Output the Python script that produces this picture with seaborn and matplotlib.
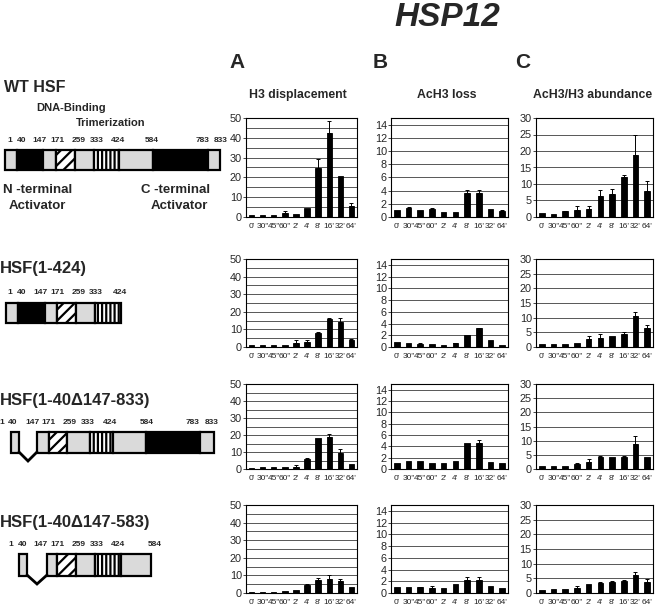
import numpy as np
import pandas as pd
import matplotlib
matplotlib.use("Agg")
import matplotlib.pyplot as plt
import seaborn as sns
from matplotlib.patches import Rectangle
from matplotlib.ticker import MultipleLocator

# ---------------- data ----------------
times = ["0'", '30"', '45"', '60"', "2'", "4'", "8'", "16'", "32'", "64'"]
constructs = ["WT HSF", "HSF(1-424)", "HSF(1-40\u0394147-833)", "HSF(1-40\u0394147-583)"]
panel_letters = ["A", "B", "C"]
panel_titles = ["H3 displacement", "AcH3 loss", "AcH3/H3 abundance"]

# A: H3 displacement
h3_wt = [0.9, 0.9, 1.2, 1.9, 1.5, 4.5, 24.7, 42.2, 20.7, 5.7]
h3_wt_err = [0, 0, 0, 1.2, 0, 0, 4.8, 6.2, 0, 1.4]
h3_424 = [0.9, 0.9, 0.9, 0.9, 2.1, 2.6, 7.9, 15.7, 14.0, 3.8]
h3_424_err = [0, 0, 0, 0, 1.7, 1.6, 0.8, 0.7, 2.6, 0.5]
h3_833 = [0.8, 1.0, 1.0, 1.2, 1.4, 5.6, 18.0, 19.0, 9.6, 3.0]
h3_833_err = [0, 0, 0, 0, 1.0, 0.6, 0, 1.4, 2.4, 0]
h3_583 = [0.6, 0.8, 0.8, 1.2, 1.8, 4.7, 7.3, 8.2, 6.7, 3.3]
h3_583_err = [0, 0, 0, 0, 0, 0.4, 1.3, 2.0, 1.1, 0]

# B: AcH3 loss
ac_wt = [1.1, 1.4, 1.0, 1.2, 0.7, 0.8, 3.6, 3.7, 1.2, 0.9]
ac_wt_err = [0, 0.1, 0, 0.1, 0, 0, 0.45, 0.4, 0, 0.1]
ac_424 = [0.85, 0.6, 0.55, 0.55, 0.4, 0.6, 2.05, 3.2, 1.15, 0.4]
ac_424_err = [0, 0, 0.15, 0, 0, 0.1, 0, 0.1, 0, 0]
ac_833 = [1.1, 1.45, 1.35, 1.0, 1.0, 1.45, 4.6, 4.6, 1.2, 1.0]
ac_833_err = [0, 0, 0, 0, 0, 0, 0, 0.6, 0, 0]
ac_583 = [1.1, 1.1, 1.0, 0.8, 0.8, 1.6, 2.3, 2.2, 1.2, 0.9]
ac_583_err = [0, 0, 0.1, 0.4, 0, 0, 0.35, 0.45, 0, 0]

# C: AcH3/H3 abundance
ab_wt = [1.2, 1.0, 1.7, 2.0, 2.5, 6.5, 7.0, 12.0, 18.8, 7.8]
ab_wt_err = [0, 0, 0.2, 1.3, 0.7, 1.8, 1.5, 0.8, 6.2, 3.2]
ab_424 = [1.0, 1.0, 1.1, 1.35, 2.7, 3.2, 3.75, 4.5, 10.6, 6.5]
ab_424_err = [0, 0, 0, 0, 1.2, 1.1, 0, 0.5, 1.4, 1.1]
ab_833 = [0.9, 0.95, 0.95, 1.9, 2.6, 4.3, 4.2, 4.4, 8.7, 4.2]
ab_833_err = [0, 0, 0, 0.2, 0.9, 0.2, 0, 0.2, 2.8, 0]
ab_583 = [1.0, 1.25, 1.5, 1.8, 2.95, 3.3, 3.6, 4.0, 6.1, 3.9]
ab_583_err = [0, 0, 0, 0.7, 0, 0.45, 0.5, 0.3, 1.2, 0.9]

values = [[h3_wt, ac_wt, ab_wt], [h3_424, ac_424, ab_424],
          [h3_833, ac_833, ab_833], [h3_583, ac_583, ab_583]]
errors = [[h3_wt_err, ac_wt_err, ab_wt_err], [h3_424_err, ac_424_err, ab_424_err],
          [h3_833_err, ac_833_err, ab_833_err], [h3_583_err, ac_583_err, ab_583_err]]

# construct schematics: residue labels and domain kinds / schematic widths
residues_wt = ["1", "40", "147", "171", "259", "333", "424", "584", "783", "833"]
residues_424 = ["1", "40", "147", "171", "259", "333", "424"]
residues_583 = ["1", "40", "147", "171", "259", "333", "424", "584"]
kinds_wt = ["gray", "black", "gray", "hatch", "gray", "stripe", "gray", "black", "gray"]
widths_wt = [12, 26, 13, 19, 19, 25, 34, 55, 12]
kinds_424 = ["gray", "black", "gray", "hatch", "gray", "stripe"]
widths_424 = [12, 27, 12, 19, 19, 26]
kinds_833 = ["gray", "gap", "gray", "hatch", "gray", "stripe", "gray", "black", "gray"]
widths_833 = [8, 18, 12, 18, 23, 23, 33, 54, 14]
kinds_583 = ["gray", "gap", "gray", "hatch", "gray", "stripe", "gray"]
widths_583 = [8, 20, 10, 19, 19, 26, 30]

# ---------------- style ----------------
sns.set_style("white")
plt.rcParams["font.family"] = ["Liberation Sans", "DejaVu Sans"]
plt.rcParams["hatch.linewidth"] = 1.6
plt.rcParams["hatch.color"] = "black"

W, H = 656, 608
fig = plt.figure(figsize=(W / 100, H / 100), dpi=100)

# overlay in pixel units for text + schematics
ov = fig.add_axes([0, 0, 1, 1], zorder=0)
ov.set_xlim(0, W)
ov.set_ylim(H, 0)
ov.axis("off")

col_l = [246, 391, 536]
col_r = [357, 508, 653]
row_t = [118, 259, 384, 505]
row_b = [217, 347, 469, 593]
ylims = [50, 15, 30]
major = [10, 2, 5]
minor = [5, 2, 5]

for r in range(4):
    for c in range(3):
        l, rr, t, b = col_l[c], col_r[c], row_t[r], row_b[r]
        ax = fig.add_axes([l / W, 1 - b / H, (rr - l) / W, (b - t) / H], zorder=2)
        df = pd.DataFrame({"time": times, "value": values[r][c]})
        sns.barplot(data=df, x="time", y="value", order=times, color="black",
                    saturation=1, width=0.48, ax=ax, zorder=3,
                    edgecolor="black", linewidth=0.6)
        err = np.array(errors[r][c])
        idx = np.where(err > 0)[0]
        vals = np.array(values[r][c])
        ax.errorbar(idx, vals[idx], yerr=[np.zeros(len(idx)), err[idx]], fmt="none",
                    ecolor="black", elinewidth=0.7, capsize=1.4, capthick=0.7, zorder=4)
        ax.set_ylim(0, ylims[c])
        ax.set_xlim(-0.5, 9.5)
        ax.yaxis.set_major_locator(MultipleLocator(major[c]))
        ax.yaxis.set_minor_locator(MultipleLocator(minor[c]))
        ax.grid(False)
        ax.yaxis.grid(True, which="both", color="#3c3c3c", linewidth=0.6, zorder=0)
        ax.set_axisbelow(True)
        ax.set_xlabel("")
        ax.set_ylabel("")
        ax.tick_params(axis="y", which="major", length=2, width=0.6, pad=1,
                       labelsize=7.8, direction="out", left=True)
        ax.tick_params(axis="y", which="minor", length=0)
        ax.tick_params(axis="x", length=0, pad=4, labelsize=6.0)
        for s in ax.spines.values():
            s.set_visible(True)
            s.set_color("black")
            s.set_linewidth(0.8)

# titles
ov.text(447, 18, "HSP12", ha="center", va="center", fontsize=24,
        fontweight="bold", fontstyle="italic")
letter_x = [237, 380, 523]
title_x = [298, 447, 593]
for c in range(3):
    ov.text(letter_x[c], 62, panel_letters[c], ha="center", va="center",
            fontsize=15, fontweight="bold")
    ov.text(title_x[c], 95, panel_titles[c], ha="center", va="center",
            fontsize=8.8, fontweight="bold")

# construct schematics
name_y = [87, 268, 400, 523]
name_size = [11.5, 12, 12, 12]
bar_top = [150, 303, 432, 554]
bar_bot = [170, 323, 453, 576]
x_start = [5, 6, 11, 19]
lab_y = [141, 293, 423, 545]
lab_x = [[10, 22, 39, 57, 79, 97, 118, 152, 203, 221],
         [10, 22, 40, 57, 79, 96, 120],
         [2, 13, 32, 48, 70, 88, 110, 147, 193, 212],
         [11, 23, 40, 57, 79, 97, 118, 155]]
kinds_all = [kinds_wt, kinds_424, kinds_833, kinds_583]
widths_all = [widths_wt, widths_424, widths_833, widths_583]
res_all = [residues_wt, residues_424, residues_wt, residues_583]

for k in range(4):
    ov.text(0 if k else 4, name_y[k], constructs[k], ha="left", va="center",
            fontsize=name_size[k], fontweight="bold")
    x = x_start[k]
    t, b = bar_top[k], bar_bot[k]
    for kind, w in zip(kinds_all[k], widths_all[k]):
        if kind == "gap":
            ov.plot([x, x + w / 2, x + w], [b - 1, b + 8, b - 1], color="black",
                    lw=2.0, solid_joinstyle="miter", zorder=3)
        else:
            fc = {"gray": "#dadada", "black": "black", "hatch": "white",
                  "stripe": "white"}[kind]
            hatch = {"hatch": "///", "stripe": "||||"}.get(kind, None)
            ov.add_patch(Rectangle((x, t), w, b - t, facecolor=fc, edgecolor="black",
                                   lw=1.6, hatch=hatch, zorder=2))
        x += w
    for lx, lab in zip(lab_x[k], res_all[k]):
        ov.text(lx, lab_y[k], lab, ha="center", va="center", fontsize=6,
                fontweight="bold")

ov.text(71, 108, "DNA-Binding", ha="center", va="center", fontsize=8, fontweight="bold")
ov.text(111, 123, "Trimerization", ha="center", va="center", fontsize=8, fontweight="bold")
ov.text(3, 190, "N -terminal", ha="left", va="center", fontsize=9.5, fontweight="bold")
ov.text(37, 206, "Activator", ha="center", va="center", fontsize=9.5, fontweight="bold")
ov.text(176, 190, "C -terminal", ha="center", va="center", fontsize=9.5, fontweight="bold")
ov.text(179, 206, "Activator", ha="center", va="center", fontsize=9.5, fontweight="bold")

fig.savefig("out.png", dpi=100)
